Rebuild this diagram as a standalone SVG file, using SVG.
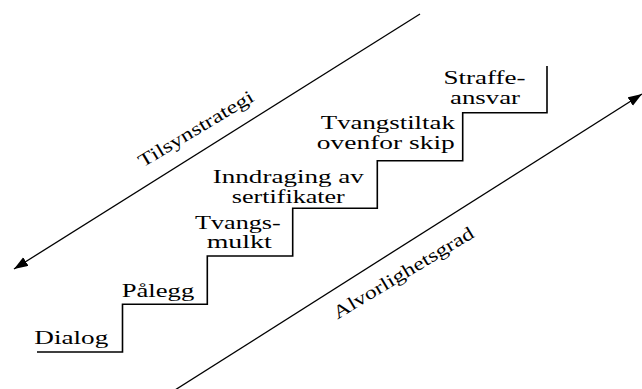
<svg xmlns="http://www.w3.org/2000/svg" width="642" height="389" viewBox="0 0 642 389">
<style>
.t{font-family:"Liberation Serif","Times New Roman","DejaVu Serif",serif;font-size:18.5px;fill:#000;text-anchor:middle}
.ln{stroke:#000;stroke-width:1.3;fill:none}
.st{stroke:#000;stroke-width:1.6;fill:none}
</style>
<defs>
<marker id="ah" markerUnits="userSpaceOnUse" markerWidth="16" markerHeight="12" refX="14" refY="5" orient="auto">
<path d="M0,0 L14,5 L0,10 Z" fill="#000"/>
</marker>
</defs>
<g id="connectors">
<line id="arrow-tilsyn" class="ln" x1="420" y1="14" x2="14" y2="269" marker-end="url(#ah)"/>
<line id="arrow-alvor" class="ln" x1="175" y1="390" x2="642" y2="94" marker-end="url(#ah)"/>
<path id="stairs" class="st" d="M37,352 H122.5 V304.3 H207.3 V256 H292.7 V208.3 H377.3 V160.7 H462.7 V112.7 H547 V66"/>
</g>
<g id="axis-tilsyn"><text class="t" transform="translate(199,134) rotate(-31)" textLength="131" lengthAdjust="spacingAndGlyphs">Tilsynstrategi</text></g>
<g id="axis-alvor"><text class="t" transform="translate(406.5,278) rotate(-31)" textLength="161" lengthAdjust="spacingAndGlyphs">Alvorlighetsgrad</text></g>
<g id="step-dialog"><text class="t" x="71.3" y="344" textLength="74" lengthAdjust="spacingAndGlyphs">Dialog</text></g>
<g id="step-palegg"><text class="t" x="158" y="296.7" textLength="72.6" lengthAdjust="spacingAndGlyphs">Pålegg</text></g>
<g id="step-tvangsmulkt">
<text class="t" x="237.9" y="228.5" textLength="85.7" lengthAdjust="spacingAndGlyphs">Tvangs-</text>
<text class="t" x="239.2" y="248" textLength="65" lengthAdjust="spacingAndGlyphs">mulkt</text>
</g>
<g id="step-inndraging">
<text class="t" x="288.3" y="183" textLength="151" lengthAdjust="spacingAndGlyphs">Inndraging av</text>
<text class="t" x="288.3" y="203" textLength="113" lengthAdjust="spacingAndGlyphs">sertifikater</text>
</g>
<g id="step-tvangstiltak">
<text class="t" x="387.8" y="129.3" textLength="134" lengthAdjust="spacingAndGlyphs">Tvangstiltak</text>
<text class="t" x="385.8" y="149.3" textLength="138" lengthAdjust="spacingAndGlyphs">ovenfor skip</text>
</g>
<g id="step-straffeansvar">
<text class="t" x="484.5" y="84" textLength="82" lengthAdjust="spacingAndGlyphs">Straffe-</text>
<text class="t" x="485" y="104" textLength="70" lengthAdjust="spacingAndGlyphs">ansvar</text>
</g>
</svg>
